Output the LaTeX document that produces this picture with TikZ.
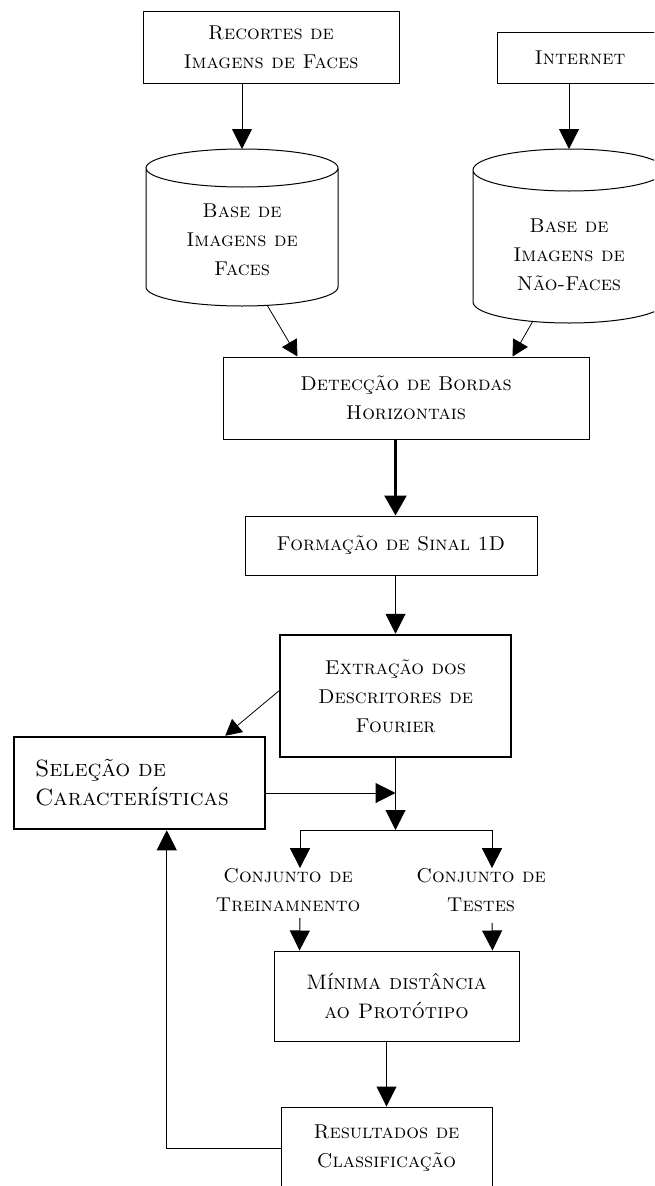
\documentclass[tikz,border=0pt]{standalone}
\usepackage{fontspec}
\usepackage{tikz}
\usetikzlibrary{arrows.meta}

\begin{document}
\begin{tikzpicture}[x=1pt,y=-1pt,
  txt/.style={font=\fontsize{20}{29}\selectfont\scshape,align=center},
  caixa/.style={draw,line width=1pt,txt,inner sep=0pt},
  caixagrossa/.style={caixa,line width=2.5pt},
  seta/.style={line width=1pt,-{Triangle[width=20pt,length=20pt]}},
  setafina/.style={line width=0.8pt,-{Triangle[width=17pt,length=16pt]}},
  setagrossa/.style={line width=2.5pt,-{Triangle[width=22pt,length=20pt]}}]
\useasboundingbox (0,0) rectangle (654,1186);
\clip (0,0) rectangle (654,1186);
% entradas
\node[caixa,minimum width=256pt,minimum height=72pt] (recortes) at (271,47) {Recortes de\\Imagens de Faces};
\node[caixa,minimum width=166pt,minimum height=51pt] (internet) at (580,57.5) {Internet};
% bases de imagens
\draw[line width=1pt] (146,168) -- (146,287) arc[start angle=180,end angle=360,x radius=96pt,y radius=19pt]
  -- (338,168) arc[start angle=0,end angle=360,x radius=96pt,y radius=19pt];
\node[txt] (basefaces) at (242,240) {Base de\\Imagens de\\Faces};
\coordinate (basefaces-top) at (242,149);
\coordinate (basefaces-bot) at (267,305);
\draw[line width=1pt] (473,170) -- (473,302) arc[start angle=180,end angle=360,x radius=96pt,y radius=21pt]
  -- (665,170) arc[start angle=0,end angle=360,x radius=96pt,y radius=21pt];
\node[txt] (basenaofaces) at (569,255) {Base de\\Imagens de\\Não-Faces};
\coordinate (basenaofaces-top) at (569,149);
\coordinate (basenaofaces-bot) at (533,321);
% processamento
\node[caixa,minimum width=366pt,minimum height=82pt] (detec) at (406,398) {Detecção de Bordas\\Horizontais};
\node[caixa,minimum width=292pt,minimum height=59pt] (formacao) at (391,545.5) {Formação de Sinal 1D};
\node[caixagrossa,minimum width=231pt,minimum height=122pt] (extracao) at (395.5,696) {Extração dos\\Descritores de\\Fourier};
\node[caixagrossa,text width=209pt,inner xsep=21pt,align=left,minimum height=92pt,
  font=\fontsize{23.5}{29}\selectfont\scshape] (selecao) at (139.5,783) {Seleção de\\Características};
\coordinate (juncao) at (395.5,793);
\coordinate (divisao) at (395.5,830);
\node[txt,inner sep=0pt] (treino) at (288,890) {Conjunto de\\Treinamnento};
\node[txt,inner sep=0pt] (testes) at (481,890) {Conjunto de\\Testes};
\node[caixa,minimum width=245pt,minimum height=90pt,font=\fontsize{21}{29}\selectfont\scshape] (minima) at (396.5,996) {Mínima distância\\ao Protótipo};
\node[caixa,minimum width=211pt,minimum height=83pt] (result) at (386.5,1148.5) {Resultados de\\Classificação};
% setas
\draw[seta] (recortes.south -| basefaces-top) -- (basefaces-top);
\draw[seta] (internet.south -| basenaofaces-top) -- (basenaofaces-top);
\draw[setafina] (basefaces-bot) -- ([xshift=75pt]detec.north west);
\draw[setafina] (basenaofaces-bot) -- ([xshift=-77pt]detec.north east);
\draw[setagrossa] (extracao.north |- detec.south) -- (extracao.north |- formacao.north);
\draw[seta] (extracao.north |- formacao.south) -- (extracao.north);
\draw[setafina] ([yshift=5pt]extracao.west) -- ([xshift=-41pt]selecao.north east);
\draw[seta] (extracao.south) -- (divisao);
\draw[seta] ([yshift=-10pt]selecao.east) -- (juncao);
\draw[seta] (divisao) -| ([xshift=12pt]treino.north);
\draw[seta] (divisao) -| ([xshift=11pt]testes.north);
\draw[seta] ([xshift=12pt,yshift=-6pt]treino.south) -- ([xshift=26pt]minima.north west);
\draw[seta] ([xshift=11pt,yshift=-11pt]testes.south) -- ([xshift=-27pt]minima.north east);
\draw[seta] (minima.south -| result.north) -- (result.north);
\draw[seta] (result.west) -| ([xshift=154pt]selecao.south west);
\end{tikzpicture}
\end{document}
